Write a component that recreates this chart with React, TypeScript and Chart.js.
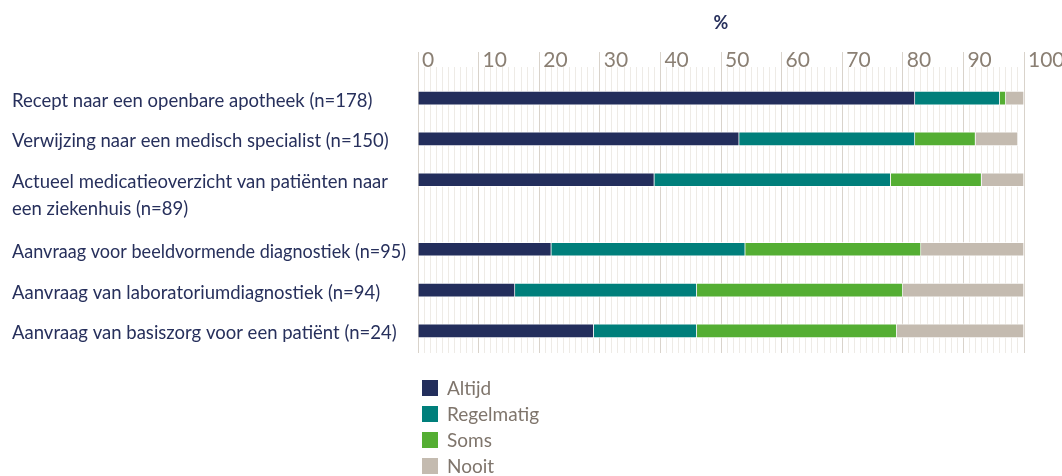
import React, { useEffect, useRef } from "react";
import { Chart, registerables } from "chart.js";

Chart.register(...registerables);

// ---- data ----
const categories: string[][] = [
  ["Recept naar een openbare apotheek (n=178)"],
  ["Verwijzing naar een medisch specialist (n=150)"],
  ["Actueel medicatieoverzicht van patiënten naar", "een ziekenhuis (n=89)"],
  ["Aanvraag voor beeldvormende diagnostiek (n=95)"],
  ["Aanvraag van laboratoriumdiagnostiek (n=94)"],
  ["Aanvraag van basiszorg voor een patiënt (n=24)"],
];
const seriesNames = ["Altijd", "Regelmatig", "Soms", "Nooit"];
const altijd = [82, 53, 39, 22, 16, 29];
const regelmatig = [14, 29, 39, 32, 30, 17];
const soms = [1, 10, 15, 29, 34, 33];
const nooit = [3, 7, 7, 17, 20, 21];
const axisTitle = "%";

// ---- styles ----
const COLORS = ["#232e5c", "#007f7b", "#54ae33", "#c4bbb0"];
const FONT = "Lato, 'Open Sans', sans-serif";
const LABEL_COLOR = "#27305c";
const TICK_COLOR = "#8a7f73";
const LEGEND_TEXT = "#7f756c";
const GRID_MAJOR = "#d9d3cb";
const GRID_MINOR = "#eeebe6";

// row slot positions: a row whose label wraps takes extra room
const rowPos: number[] = [];
categories.forEach((lines, i) => {
  if (i === 0) rowPos.push(0);
  else rowPos.push(rowPos[i - 1] + 1 + 0.7 * (categories[i - 1].length - 1));
});

const seriesValues = [altijd, regelmatig, soms, nooit];

const overlayPlugin = {
  id: "rowLabelsAndLegend",
  afterDraw(chart: any) {
    const ctx = chart.ctx;
    const ys = chart.scales.y;
    const maxW = chart.chartArea.left - 12 - 12;
    ctx.save();
    ctx.font = `18.5px ${FONT}`;
    ctx.textAlign = "left";
    ctx.textBaseline = "alphabetic";
    ctx.fillStyle = LABEL_COLOR;
    categories.forEach((lines, i) => {
      const yc = ys.getPixelForValue(rowPos[i]);
      lines.forEach((t, j) => ctx.fillText(t, 12, yc + 8.5 + j * 27, maxW));
    });
    // legend (vertical list below the plot)
    const lx = chart.chartArea.left + 4;
    const ly = chart.chartArea.bottom + 27;
    ctx.font = `19px ${FONT}`;
    chart.data.datasets.forEach((ds: any, i: number) => {
      const top = ly + i * 26;
      ctx.fillStyle = ds.backgroundColor;
      ctx.fillRect(lx, top, 16, 16);
      ctx.fillStyle = LEGEND_TEXT;
      ctx.fillText(ds.label, lx + 25, top + 15);
    });
    ctx.restore();
  },
};

export default function App() {
  const ref = useRef<HTMLCanvasElement>(null);
  useEffect(() => {
    if (!ref.current) return;
    const chart = new Chart(ref.current, {
      type: "bar",
      data: {
        datasets: seriesNames.map((name, s) => ({
          label: name,
          data: seriesValues[s].map((v, i) => ({ x: v, y: rowPos[i] })),
          backgroundColor: COLORS[s],
          borderColor: "rgba(255,255,255,0.75)",
          borderWidth: 1,
          barThickness: 14,
        })),
      },
      options: {
        indexAxis: "y",
        animation: false,
        responsive: false,
        layout: { padding: { left: 418, right: 76, top: 0, bottom: 123 } },
        plugins: {
          legend: { display: false },
          tooltip: { enabled: false },
          title: {
            display: true,
            text: axisTitle,
            color: LABEL_COLOR,
            font: { family: FONT, size: 18, weight: "bold", lineHeight: 1.2 },
            padding: { top: 12, bottom: 0 },
          },
        },
        scales: {
          x: {
            type: "linear",
            position: "top",
            stacked: true,
            min: 0,
            max: 100,
            border: { display: false },
            afterFit(scale: any) {
              scale.height = 33.4;
            },
            grid: {
              color: (c: any) => (c.tick && c.tick.value % 10 === 0 ? GRID_MAJOR : GRID_MINOR),
              tickColor: (c: any) => (c.tick && c.tick.value % 10 === 0 ? GRID_MAJOR : "rgba(0,0,0,0)"),
              tickLength: 15,
              lineWidth: 1,
            },
            ticks: {
              stepSize: 1,
              autoSkip: false,
              maxRotation: 0,
              align: "start",
              labelOffset: 4,
              padding: -21,
              color: TICK_COLOR,
              font: { family: FONT, size: 21 },
              callback: (v: any) => (Number(v) % 10 === 0 ? String(v) : ""),
            },
          },
          y: {
            type: "linear",
            stacked: true,
            reverse: true,
            offset: false,
            min: -0.76,
            max: 6.24,
            display: false,
          },
        },
      },
      plugins: [overlayPlugin],
    } as any);
    return () => chart.destroy();
  }, []);
  return (
    <div style={{ position: "absolute", left: 0, top: 0, width: 1062, height: 476, overflow: "hidden", background: "#fff" }}>
      <canvas ref={ref} width={1100} height={476} style={{ display: "block" }} />
    </div>
  );
}
